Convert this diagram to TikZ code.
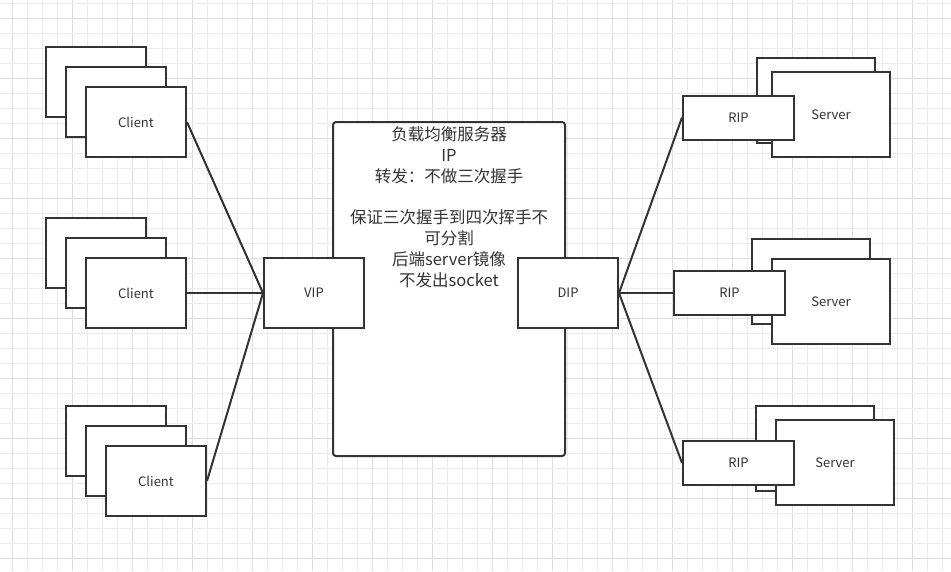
\documentclass[tikz,border=0pt]{standalone}
\usepackage{fontspec}
\setmainfont{Noto Sans CJK SC}
\begin{document}
\begin{tikzpicture}[x=1pt,y=-1pt,
  every node/.style={text=ink, inner sep=0pt},
  card/.style={draw=ink, line width=2pt, fill=white, minimum width=100pt, minimum height=70pt, font=\fontsize{13}{15}\selectfont},
  srv/.style={draw=ink, line width=2pt, fill=white, minimum width=118pt, minimum height=85pt, font=\fontsize{13}{15}\selectfont},
  ripbox/.style={draw=ink, line width=2pt, fill=white, minimum width=111pt, minimum height=44pt, font=\fontsize{13}{15}\selectfont},
  link/.style={draw=ink, line width=2pt}]
\definecolor{ink}{HTML}{333333}
\definecolor{gminor}{HTML}{EBEBEB}
\definecolor{gmajor}{HTML}{DDDDDD}
\useasboundingbox (0,0) rectangle (951,571);
\fill[white] (0,0) rectangle (951,571);
% grid
\foreach \k in {0,...,62} {
  \pgfmathsetmacro{\gx}{12.7+15*\k}
  \pgfmathtruncatemacro{\m}{mod(\k,4)}
  \ifnum\m=0 \draw[gmajor, line width=1pt] (\gx,0) -- (\gx,571);
  \else \draw[gminor, line width=1pt] (\gx,0) -- (\gx,571); \fi
}
\foreach \k in {0,...,37} {
  \pgfmathsetmacro{\gy}{3.3+15*\k}
  \pgfmathtruncatemacro{\m}{mod(\k,4)}
  \ifnum\m=1 \draw[gmajor, line width=1pt] (0,\gy) -- (951,\gy);
  \else \draw[gminor, line width=1pt] (0,\gy) -- (951,\gy); \fi
}
% load balancer
\draw[ink, line width=2pt, fill=white, rounded corners=3pt] (333,122) rectangle (565,456);
\node[align=center, font=\fontsize{16.5}{20.8}\selectfont] (lbtext) at (449,207)
  {负载均衡服务器\\IP\\转发：不做三次握手\\\mbox{}\\保证三次握手到四次挥手不\\可分割\\后端server镜像\\不发出socket};
\node[card] (vip) at (314,293) {VIP};
\node[card] (dip) at (568,293) {DIP};
% clients
\node[card] (c1b) at (96,82) {};
\node[card] (c1m) at (116,102) {};
\node[card] (c1) at (136,122) {Client};
\node[card] (c2b) at (96,253) {};
\node[card] (c2m) at (116,273) {};
\node[card] (c2) at (136,293) {Client};
\node[card] (c3b) at (116,441) {};
\node[card] (c3m) at (136,461) {};
\node[card] (c3) at (156,481) {Client};
% servers
\node[srv] (s1b) at (816,100) {};
\node[srv] (s1) at (831,114.5) {Server};
\node[ripbox] (r1) at (738.5,117.5) {RIP};
\node[srv] (s2b) at (811,281.5) {};
\node[srv] (s2) at (831,301.5) {Server};
\node[ripbox] (r2) at (729.5,293) {RIP};
\node[srv] (s3b) at (815,448) {};
\node[srv] (s3) at (835,462.5) {Server};
\node[ripbox] (r3) at (738.5,463) {RIP};
% connectors
\draw[link] (c1.east) -- (vip.west);
\draw[link] (c2.east) -- (vip.west);
\draw[link] (c3.east) -- (vip.west);
\draw[link] (dip.east) -- (r1.west);
\draw[link] (dip.east) -- (r2.west);
\draw[link] (dip.east) -- (r3.west);
\end{tikzpicture}
\end{document}
